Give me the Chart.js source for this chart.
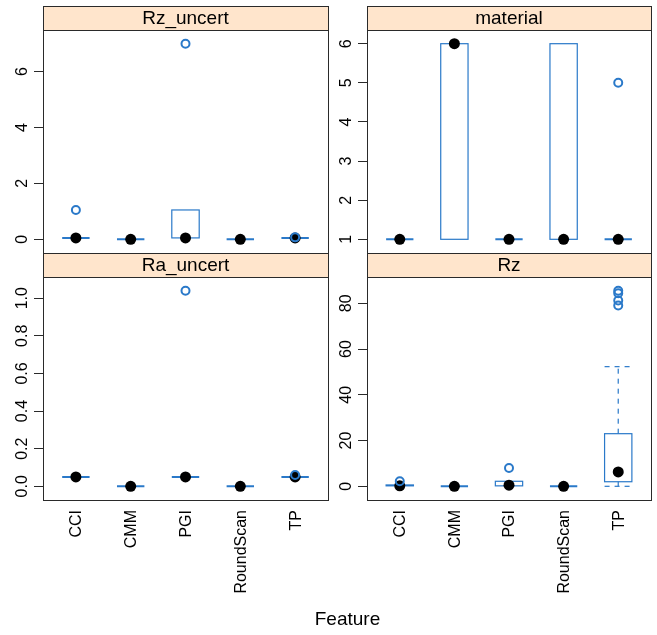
<!DOCTYPE html>
<html>
<head>
<meta charset="utf-8">
<script src="https://cdn.jsdelivr.net/npm/chart.js@4/dist/chart.umd.min.js"></script>
<style>
  html, body { margin:0; padding:0; background:#fff; }
  #wrap { position:relative; width:657px; height:635px; }
  #wrap canvas { position:absolute; left:0; top:0; }
</style>
</head>
<body>
<div id="wrap">
  <canvas id="c1" width="657" height="635"></canvas>
  <canvas id="c2" width="657" height="635"></canvas>
  <canvas id="c3" width="657" height="635"></canvas>
  <canvas id="c4" width="657" height="635"></canvas>
</div>
<script>
// ---------- data ----------
const features = ["CCI", "CMM", "PGI", "RoundScan", "TP"];
const xAxisTitle = "Feature";

// Rz_uncert
const rzUncertLow  = [0.05, 0, 0.05, 0, 0.05];
const rzUncertQ1   = [0.05, 0, 0.05, 0, 0.05];
const rzUncertMed  = [0.05, 0, 0.05, 0, 0.05];
const rzUncertQ3   = [0.05, 0, 1.05, 0, 0.05];
const rzUncertHigh = [0.05, 0, 1.05, 0, 0.05];
const rzUncertOutCat = ["CCI", "PGI", "TP"];
const rzUncertOutVal = [1.05, 7.0, 0.07];
const rzUncertTicks = [0, 2, 4, 6];
const rzUncertTickLabels = ["0", "2", "4", "6"];

// material
const materialLow  = [1, 1, 1, 1, 1];
const materialQ1   = [1, 1, 1, 1, 1];
const materialMed  = [1, 6, 1, 1, 1];
const materialQ3   = [1, 6, 1, 6, 1];
const materialHigh = [1, 6, 1, 6, 1];
const materialOutCat = ["TP"];
const materialOutVal = [5];
const materialTicks = [1, 2, 3, 4, 5, 6];
const materialTickLabels = ["1", "2", "3", "4", "5", "6"];

// Ra_uncert
const raUncertLow  = [0.05, 0, 0.05, 0, 0.05];
const raUncertQ1   = [0.05, 0, 0.05, 0, 0.05];
const raUncertMed  = [0.05, 0, 0.05, 0, 0.05];
const raUncertQ3   = [0.05, 0, 0.05, 0, 0.05];
const raUncertHigh = [0.05, 0, 0.05, 0, 0.05];
const raUncertOutCat = ["PGI", "TP"];
const raUncertOutVal = [1.04, 0.06];
const raUncertTicks = [0, 0.2, 0.4, 0.6, 0.8, 1.0];
const raUncertTickLabels = ["0.0", "0.2", "0.4", "0.6", "0.8", "1.0"];

// Rz
const rzLow  = [0.2, 0, 0.2, 0, 0];
const rzQ1   = [0.2, 0, 0.2, 0, 2];
const rzMed  = [0.2, 0, 0.5, 0, 6.3];
const rzQ3   = [0.6, 0, 2.2, 0, 23];
const rzHigh = [0.6, 0, 2.2, 0, 52.3];
const rzOutCat = ["CCI", "PGI", "TP", "TP", "TP", "TP"];
const rzOutVal = [2.2, 8.0, 85.5, 84.4, 81.2, 79.0];
const rzTicks = [0, 20, 40, 60, 80];
const rzTickLabels = ["0", "20", "40", "60", "80"];

// ---------- style ----------
const BLUE = "#2a79c9";
const LINE = "#2a2a2a";
const STRIP = "#ffe5cc";
const FONT = "'Liberation Sans', Arial, Helvetica, sans-serif";

function makePanel(canvasId, title, s, pad, showX, showTitle) {
  const all = [].concat(s.low, s.high, s.outVal);
  const mn = Math.min.apply(null, all), mx = Math.max.apply(null, all);
  const ext = (mx - mn) * 0.07;
  const meds = features.map((f, i) => ({ x: i + 1, y: s.med[i] }));
  const outs = s.outCat.map((c, k) => ({ x: features.indexOf(c) + 1, y: s.outVal[k] }));

  const bwPlugin = {
    id: 'bw' + canvasId,
    beforeDatasetsDraw(chart) {
      const ctx = chart.ctx, xs = chart.scales.x, ys = chart.scales.y;
      const half = xs.getPixelForValue(1.25) - xs.getPixelForValue(1);
      ctx.save();
      ctx.strokeStyle = BLUE;
      features.forEach((f, i) => {
        const cx = xs.getPixelForValue(i + 1);
        const yq1 = ys.getPixelForValue(s.q1[i]);
        const yq3 = ys.getPixelForValue(s.q3[i]);
        const ylo = ys.getPixelForValue(s.low[i]);
        const yhi = ys.getPixelForValue(s.high[i]);
        ctx.lineWidth = 1.2;
        ctx.setLineDash([5, 5]);
        if (s.high[i] > s.q3[i]) {
          ctx.beginPath(); ctx.moveTo(cx, yq3); ctx.lineTo(cx, yhi); ctx.stroke();
          ctx.beginPath(); ctx.moveTo(cx - half, yhi); ctx.lineTo(cx + half, yhi); ctx.stroke();
        }
        if (s.low[i] < s.q1[i]) {
          ctx.beginPath(); ctx.moveTo(cx, yq1); ctx.lineTo(cx, ylo); ctx.stroke();
          ctx.beginPath(); ctx.moveTo(cx - half, ylo); ctx.lineTo(cx + half, ylo); ctx.stroke();
        }
        ctx.setLineDash([]);
        ctx.lineWidth = (s.q3[i] === s.q1[i]) ? 2 : 1.2;
        ctx.strokeRect(cx - half, yq3, 2 * half, yq1 - yq3);
      });
      ctx.restore();
    },
    afterDraw(chart) {
      const ctx = chart.ctx, xs = chart.scales.x, ys = chart.scales.y;
      const a = chart.chartArea;
      ctx.save();
      const st = a.top - 24;
      ctx.fillStyle = STRIP;
      ctx.fillRect(a.left, st, a.right - a.left, 24);
      ctx.strokeStyle = LINE;
      ctx.lineWidth = 1;
      ctx.strokeRect(Math.round(a.left) + 0.5, Math.round(st) + 0.5, Math.round(a.right - a.left), 24);
      ctx.fillStyle = "#000";
      ctx.font = "19px " + FONT;
      ctx.textAlign = "center";
      ctx.textBaseline = "middle";
      ctx.fillText(title, (a.left + a.right) / 2, st + 12.5);
      ctx.strokeRect(Math.round(a.left) + 0.5, Math.round(a.top) + 0.5,
                     Math.round(a.right - a.left), Math.round(a.bottom - a.top));
      ctx.font = "16px " + FONT;
      ctx.fillStyle = "#000";
      ctx.textAlign = "center";
      ctx.textBaseline = "alphabetic";
      s.ticks.forEach((v, k) => {
        const py = ys.getPixelForValue(v);
        ctx.save();
        ctx.translate(ys.right - 16, py);
        ctx.rotate(-Math.PI / 2);
        ctx.fillText(s.tickLabels[k], 0, 0);
        ctx.restore();
      });
      if (showX) {
        ctx.textAlign = "right";
        ctx.textBaseline = "middle";
        features.forEach((f, i) => {
          const px = xs.getPixelForValue(i + 1);
          ctx.save();
          ctx.translate(px + 1, a.bottom + 10);
          ctx.rotate(-Math.PI / 2);
          ctx.fillText(f, 0, 0);
          ctx.restore();
        });
      }
      if (showTitle) {
        ctx.font = "19px " + FONT;
        ctx.textAlign = "center";
        ctx.textBaseline = "middle";
        ctx.fillText(xAxisTitle, 347.5, 620);
      }
      ctx.restore();
    }
  };

  new Chart(document.getElementById(canvasId), {
    type: 'scatter',
    data: {
      datasets: [
        { data: outs, pointStyle: 'circle', pointRadius: 4, pointHoverRadius: 4,
          pointBorderWidth: 2, borderColor: BLUE, backgroundColor: 'rgba(0,0,0,0)' },
        { data: meds, pointStyle: 'circle', pointRadius: 5.5, pointHoverRadius: 5.5,
          pointBorderWidth: 0, borderColor: '#000', backgroundColor: '#000' }
      ]
    },
    options: {
      responsive: false, animation: false, devicePixelRatio: 1, events: [],
      layout: { padding: pad },
      plugins: { legend: { display: false }, tooltip: { enabled: false } },
      scales: {
        x: { type: 'linear', min: 0.4, max: 5.6, display: false },
        y: {
          type: 'linear', min: mn - ext, max: mx + ext,
          afterBuildTicks: (sc) => { sc.ticks = s.ticks.map(v => ({ value: v })); },
          afterFit: (sc) => { sc.width = 43; },
          grid: { display: true, drawOnChartArea: false, drawTicks: true, tickLength: 9, color: LINE, lineWidth: 1 },
          border: { display: false },
          ticks: { display: false }
        }
      }
    },
    plugins: [bwPlugin]
  });
}

makePanel('c1', 'Rz_uncert',
  { low: rzUncertLow, q1: rzUncertQ1, med: rzUncertMed, q3: rzUncertQ3, high: rzUncertHigh,
    outCat: rzUncertOutCat, outVal: rzUncertOutVal, ticks: rzUncertTicks, tickLabels: rzUncertTickLabels },
  { left: 0, top: 30, right: 329, bottom: 382 }, false, false);

makePanel('c2', 'material',
  { low: materialLow, q1: materialQ1, med: materialMed, q3: materialQ3, high: materialHigh,
    outCat: materialOutCat, outVal: materialOutVal, ticks: materialTicks, tickLabels: materialTickLabels },
  { left: 324, top: 30, right: 5, bottom: 382 }, false, false);

makePanel('c3', 'Ra_uncert',
  { low: raUncertLow, q1: raUncertQ1, med: raUncertMed, q3: raUncertQ3, high: raUncertHigh,
    outCat: raUncertOutCat, outVal: raUncertOutVal, ticks: raUncertTicks, tickLabels: raUncertTickLabels },
  { left: 0, top: 277, right: 329, bottom: 135 }, true, true);

makePanel('c4', 'Rz',
  { low: rzLow, q1: rzQ1, med: rzMed, q3: rzQ3, high: rzHigh,
    outCat: rzOutCat, outVal: rzOutVal, ticks: rzTicks, tickLabels: rzTickLabels },
  { left: 324, top: 277, right: 5, bottom: 135 }, true, false);
</script>
</body>
</html>
